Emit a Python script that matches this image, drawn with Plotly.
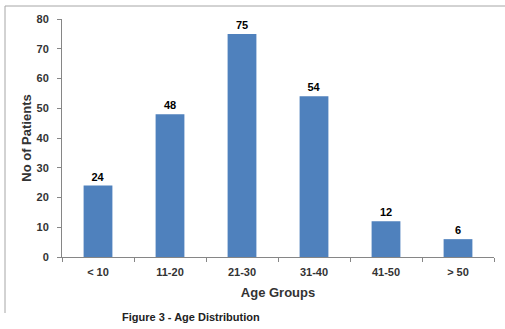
import plotly.graph_objects as go

categories = ["< 10", "11-20", "21-30", "31-40", "41-50", "> 50"]
patients = [24, 48, 75, 54, 12, 6]
y_ticks = [0, 10, 20, 30, 40, 50, 60, 70, 80]

W, H = 505, 329
L, R, T, B = 62, 11, 19, 72
pw = W - L - R
ph = H - T - B

def px_x(p):
    return (p - L) / pw

def px_y(p):
    return (H - B - p) / ph

FONT = "Liberation Sans"

fig = go.Figure(go.Bar(
    x=categories, y=patients,
    marker=dict(color="#4F81BD", line=dict(width=0)),
    width=0.4,
    texttemplate="<b>%{y}</b>",
    textposition="outside",
    textfont=dict(family=FONT, size=11, color="#000000"),
    cliponaxis=False,
))

fig.update_layout(
    width=W, height=H,
    margin=dict(l=L, r=R, t=T, b=B),
    paper_bgcolor="white", plot_bgcolor="white",
    showlegend=False,
    font=dict(family=FONT, color="#333333"),
    xaxis=dict(
        showline=True, linecolor="#868686", linewidth=1,
        ticks="outside", tickson="boundaries", ticklen=4, tickcolor="#868686",
        tickfont=dict(family=FONT, size=11, color="#333333"),
        ticklabelstandoff=5,
        tickvals=categories, ticktext=["<b>%s</b>" % c for c in categories],
        title=dict(text="<b>Age Groups</b>", font=dict(family=FONT, size=13, color="#333333"), standoff=10),
        showgrid=False, zeroline=False,
    ),
    yaxis=dict(
        range=[0, 80], tickvals=y_ticks, ticktext=["<b>%d</b>" % v for v in y_ticks],
        showline=True, linecolor="#868686", linewidth=1,
        ticks="outside", ticklen=4, tickcolor="#868686",
        tickfont=dict(family=FONT, size=11, color="#333333"),
        ticklabelstandoff=6,
        title=dict(text="<b>No of Patients</b>", font=dict(family=FONT, size=13, color="#333333"), standoff=1),
        showgrid=False, zeroline=False,
    ),
    shapes=[
        dict(type="line", xref="paper", yref="paper",
             x0=px_x(5), x1=px_x(505), y0=px_y(6), y1=px_y(6),
             line=dict(color="#A6A6A6", width=1)),
        dict(type="line", xref="paper", yref="paper",
             x0=px_x(5), x1=px_x(5), y0=px_y(6), y1=px_y(313),
             line=dict(color="#A6A6A6", width=1)),
    ],
    annotations=[
        dict(text="<b>Figure 3 - Age Distribution</b>", xref="paper", yref="paper",
             x=px_x(120), y=px_y(317), xanchor="left", yanchor="middle",
             showarrow=False, font=dict(family=FONT, size=11, color="#222222")),
    ],
)

fig.write_html("out.html")
